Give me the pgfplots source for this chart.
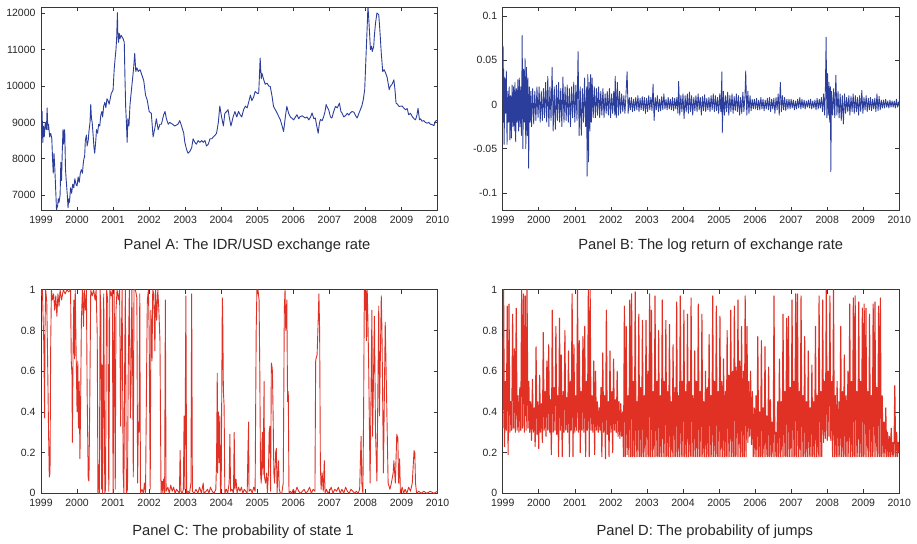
\documentclass[border=0pt]{standalone}
\usepackage{fontspec}
\setmainfont{Liberation Sans}
\usepackage{pgfplots}
\pgfplotsset{compat=1.18}
\definecolor{lineblue}{RGB}{44,62,155}
\definecolor{linered}{RGB}{225,48,36}
\definecolor{framec}{RGB}{55,55,55}
\pgfplotsset{
  panel/.style={
    scale only axis, width=396.5pt, height=203.5pt, anchor=south west,
    xmin=1999, xmax=2010,
    xtick={1999,2000,2001,2002,2003,2004,2005,2006,2007,2008,2009,2010},
    xticklabels={1999,2000,2001,2002,2003,2004,2005,2006,2007,2008,2009,2010},
    axis line style={framec, line width=0.9pt},
    tick style={framec, line width=0.6pt},
    major tick length=4pt,
    tick align=inside,
    ticklabel style={font=\fontsize{10.5}{12}\selectfont, text=black!85},
    xticklabel style={yshift=-2pt},
    yticklabel style={xshift=-2pt},
    scaled ticks=false,
  },
  ser/.style={no markers, line join=round, line width=0.9pt},
}
\begin{document}
\begin{tikzpicture}
\useasboundingbox (0,0) rectangle (917pt,543pt);
% Panel A
\begin{axis}[panel, at={(41pt,332.3pt)}, ymin=6570, ymax=12170,
  ytick={7000,8000,9000,10000,11000,12000},
  yticklabels={7000,8000,9000,10000,11000,12000}]
\addplot[ser, lineblue] coordinates {
(1999.00,8100) (1999.02,8700) (1999.03,9300) (1999.05,8450) (1999.07,8900) (1999.09,8600) (1999.12,9000) (1999.15,8800) (1999.17,9400) (1999.19,8800) (1999.21,8950) (1999.24,8600) (1999.27,8700) (1999.30,8550) (1999.32,8000) (1999.34,7600) (1999.36,8150) (1999.38,7800) (1999.41,7100) (1999.43,6600) (1999.46,6700) (1999.48,6900) (1999.50,6800) (1999.53,7000) (1999.55,7900) (1999.57,7400) (1999.59,8200) (1999.61,8800) (1999.63,8400) (1999.65,8800) (1999.66,8700) (1999.68,7700) (1999.70,7400) (1999.73,7000) (1999.75,6650) (1999.77,6900) (1999.79,6800) (1999.82,7200) (1999.85,7050) (1999.88,7300) (1999.91,7200) (1999.94,7450) (1999.97,7300) (2000.00,7250)
(2000.03,7500) (2000.06,7350) (2000.09,7600) (2000.12,7700) (2000.15,7600) (2000.17,7850) (2000.19,8000) (2000.21,8050) (2000.23,8500) (2000.26,8650) (2000.28,8350) (2000.31,8500) (2000.33,8750) (2000.36,9000) (2000.38,9500) (2000.40,9100) (2000.42,9000) (2000.45,8600) (2000.47,8300) (2000.49,8150) (2000.52,8500) (2000.54,8800) (2000.57,8700) (2000.60,8950) (2000.63,8900) (2000.66,9200) (2000.69,9300) (2000.71,9150) (2000.74,9450) (2000.77,9550) (2000.80,9400) (2000.83,9650) (2000.86,9600) (2000.89,9500) (2000.92,9650) (2000.95,9800) (2000.98,9850) (2001.00,9900)
(2001.03,10450) (2001.06,10800) (2001.08,11000) (2001.10,11350) (2001.12,12020) (2001.13,11500) (2001.15,11200) (2001.17,11450) (2001.19,11300) (2001.22,11400) (2001.25,11350) (2001.28,11300) (2001.31,11200) (2001.33,10200) (2001.35,9400) (2001.37,9000) (2001.39,8450) (2001.41,9100) (2001.44,8900) (2001.47,9500) (2001.50,9800) (2001.53,10100) (2001.57,10500) (2001.60,10900) (2001.63,10400) (2001.66,10500) (2001.70,10400) (2001.75,10450) (2001.80,10300) (2001.85,10150) (2001.90,9750) (2001.95,9600) (2002.00,9300)
(2002.06,9250) (2002.11,8600) (2002.16,8850) (2002.20,9100) (2002.25,8800) (2002.30,8950) (2002.34,8950) (2002.40,9200) (2002.44,9300) (2002.48,9100) (2002.53,8950) (2002.57,9000) (2002.65,8950) (2002.71,8900) (2002.80,8950) (2002.85,9050) (2002.90,8900) (2002.96,8700) (2002.99,8450) (2003.04,8250) (2003.08,8150) (2003.13,8200) (2003.18,8300) (2003.22,8550) (2003.27,8450) (2003.31,8400) (2003.36,8500) (2003.41,8450) (2003.46,8500) (2003.50,8450) (2003.55,8500) (2003.59,8350) (2003.64,8400) (2003.69,8550) (2003.74,8550) (2003.78,8600) (2003.83,8650) (2003.87,8700) (2003.92,9000) (2003.96,9450)
(2004.01,9150) (2004.06,8900) (2004.10,9250) (2004.15,9300) (2004.19,9350) (2004.23,9100) (2004.27,8900) (2004.33,9150) (2004.38,9300) (2004.43,9150) (2004.48,9300) (2004.53,9200) (2004.57,9150) (2004.62,9350) (2004.67,9450) (2004.72,9400) (2004.76,9550) (2004.81,9750) (2004.85,9600) (2004.90,9700) (2004.94,9850) (2005.00,9800) (2005.04,9800)
(2005.08,10770) (2005.11,10200) (2005.13,10350) (2005.18,10170) (2005.22,10050) (2005.27,10080) (2005.32,10000) (2005.36,9990) (2005.41,9720) (2005.45,9440) (2005.50,9350) (2005.55,9260) (2005.60,9150) (2005.64,9070) (2005.69,8900) (2005.73,8750) (2005.78,9160) (2005.82,9440) (2005.87,9250) (2005.92,9150) (2006.01,9070) (2006.06,9150) (2006.10,9210) (2006.15,9100) (2006.19,9160) (2006.25,9180) (2006.33,9120) (2006.38,9150) (2006.43,9070) (2006.48,9150) (2006.52,9260) (2006.57,9100) (2006.61,9120) (2006.65,8900) (2006.69,8700) (2006.72,8950) (2006.75,9080) (2006.80,9050) (2006.84,9150) (2006.88,9300) (2006.91,9490) (2006.95,9400) (2006.98,9350)
(2007.03,9150) (2007.07,9120) (2007.12,9300) (2007.17,9440) (2007.22,9400) (2007.28,9530) (2007.32,9300) (2007.35,9260) (2007.40,9150) (2007.44,9180) (2007.50,9250) (2007.54,9200) (2007.58,9260) (2007.63,9300) (2007.68,9280) (2007.72,9200) (2007.77,9120) (2007.82,9250) (2007.86,9350) (2007.90,9450) (2007.94,9620) (2007.98,9900) (2008.02,10910) (2008.04,11400) (2008.06,11920) (2008.07,12200) (2008.09,11900) (2008.11,11550) (2008.14,11000) (2008.17,11100) (2008.19,10950) (2008.23,11090) (2008.25,11400) (2008.28,11730) (2008.32,12010) (2008.35,11980) (2008.37,11960) (2008.40,11550) (2008.44,10910) (2008.48,10400) (2008.52,10450) (2008.56,10360) (2008.60,10250) (2008.63,10080) (2008.66,9900) (2008.69,9990) (2008.74,10050) (2008.79,10170) (2008.82,9900) (2008.85,9530) (2008.89,9500) (2008.93,9440)
(2009.02,9450) (2009.06,9400) (2009.11,9350) (2009.16,9380) (2009.20,9210) (2009.25,9250) (2009.30,9160) (2009.35,9100) (2009.39,9070) (2009.43,9200) (2009.46,9390) (2009.50,9070) (2009.53,9100) (2009.57,9030) (2009.62,9050) (2009.66,9000) (2009.71,8980) (2009.76,9000) (2009.80,8950) (2009.85,8940) (2009.90,8910) (2009.94,9030) (2009.97,9050) (2010.00,9040)
};
\end{axis}
% Panel B
\begin{axis}[panel, at={(502.7pt,332.3pt)}, width=396.6pt, ymin=-0.12, ymax=0.11,
  ytick={-0.1,-0.05,0,0.05,0.1},
  yticklabels={-0.1,-0.05,0,0.05,0.1}]
\addplot[ser, lineblue, line width=0.85pt] coordinates {
(1999.00,0.000) (1999.01,0.066) (1999.02,-0.020) (1999.03,0.040) (1999.04,-0.045) (1999.06,0.030) (1999.08,-0.010) (1999.10,0.038) (1999.12,-0.045) (1999.14,0.015) (1999.16,-0.020) (1999.18,0.020) (1999.20,-0.040) (1999.22,0.010) (1999.24,-0.038) (1999.26,0.022) (1999.28,-0.025) (1999.30,0.020) (1999.32,-0.030) (1999.34,0.025) (1999.36,-0.042) (1999.38,0.018) (1999.40,-0.020) (1999.42,0.028) (1999.44,-0.030) (1999.46,0.030) (1999.48,-0.025) (1999.50,0.020) (1999.52,-0.035) (1999.54,0.078) (1999.56,-0.050) (1999.58,0.040) (1999.60,-0.020) (1999.62,0.052) (1999.64,-0.050) (1999.66,0.042) (1999.68,-0.035) (1999.70,0.030) (1999.72,-0.072) (1999.74,0.020) (1999.76,-0.020) (1999.78,0.015) (1999.80,-0.025)
(1999.83,0.018) (1999.86,-0.022) (1999.89,0.015) (1999.92,-0.018) (1999.95,0.020) (1999.98,-0.015) (2000.01,0.020) (2000.04,-0.020) (2000.07,0.015) (2000.10,-0.018) (2000.13,0.018) (2000.16,-0.015) (2000.19,0.025) (2000.22,-0.020) (2000.25,0.032) (2000.28,-0.025) (2000.31,0.020) (2000.34,-0.018) (2000.37,0.042) (2000.40,-0.030) (2000.43,0.020) (2000.46,-0.028) (2000.49,0.022) (2000.52,-0.018) (2000.55,0.025) (2000.58,-0.020) (2000.61,0.018) (2000.64,-0.025) (2000.67,0.031) (2000.70,-0.020) (2000.73,0.020) (2000.76,-0.018) (2000.79,0.022) (2000.82,-0.020) (2000.85,0.018) (2000.88,-0.025) (2000.91,0.020) (2000.94,-0.015) (2000.97,0.025)
(2001.00,-0.020) (2001.03,0.022) (2001.06,-0.018) (2001.09,0.060) (2001.12,-0.035) (2001.15,0.020) (2001.18,-0.035) (2001.21,0.018) (2001.24,-0.020) (2001.27,0.030) (2001.30,-0.025) (2001.33,0.020) (2001.34,-0.081) (2001.36,0.034) (2001.38,-0.065) (2001.40,0.025) (2001.42,-0.030) (2001.44,0.034) (2001.46,-0.020) (2001.48,0.030) (2001.51,-0.015) (2001.54,0.020) (2001.57,-0.015) (2001.60,0.018) (2001.63,-0.012) (2001.66,0.020) (2001.69,-0.015) (2001.72,0.015) (2001.75,-0.012) (2001.78,0.018) (2001.81,-0.015) (2001.84,0.012) (2001.87,-0.010) (2001.90,0.015) (2001.93,-0.012) (2001.96,0.018) (2001.99,-0.015)
(2002.02,0.012) (2002.05,-0.010) (2002.08,0.015) (2002.11,-0.012) (2002.12,0.032) (2002.15,-0.015) (2002.18,0.025) (2002.21,-0.012) (2002.24,0.015) (2002.27,-0.010) (2002.30,0.012) (2002.33,-0.008) (2002.36,0.010) (2002.39,-0.010) (2002.42,0.012) (2002.45,0.037) (2002.48,-0.010) (2002.51,0.008) (2002.54,-0.006) (2002.57,0.008) (2002.60,-0.008) (2002.63,0.006) (2002.66,-0.007) (2002.69,0.008) (2002.72,-0.006) (2002.75,0.010) (2002.78,-0.008) (2002.81,0.007) (2002.84,-0.006) (2002.87,0.009) (2002.90,-0.007) (2002.93,0.008) (2002.96,-0.010) (2002.99,0.007)
(2003.02,-0.008) (2003.05,0.010) (2003.08,-0.006) (2003.11,0.008) (2003.14,-0.007) (2003.17,0.023) (2003.20,-0.018) (2003.23,0.008) (2003.26,-0.006) (2003.29,0.010) (2003.32,-0.008) (2003.35,0.006) (2003.38,-0.007) (2003.41,0.009) (2003.44,-0.006) (2003.47,0.012) (2003.50,-0.005) (2003.53,0.006) (2003.56,-0.006) (2003.59,0.008) (2003.62,-0.005) (2003.65,0.006) (2003.68,-0.006) (2003.71,0.008) (2003.74,-0.007) (2003.77,0.007) (2003.80,-0.005) (2003.83,0.008) (2003.86,-0.010) (2003.88,0.026) (2003.91,-0.012) (2003.94,0.010) (2003.97,-0.008)
(2004.00,0.012) (2004.03,-0.016) (2004.06,0.010) (2004.09,-0.008) (2004.12,0.012) (2004.15,-0.010) (2004.18,0.014) (2004.21,-0.008) (2004.24,0.010) (2004.27,-0.012) (2004.30,0.008) (2004.33,-0.007) (2004.36,0.010) (2004.39,-0.008) (2004.42,0.012) (2004.45,-0.006) (2004.48,0.008) (2004.51,-0.012) (2004.54,0.009) (2004.57,-0.007) (2004.60,0.011) (2004.63,-0.008) (2004.66,0.007) (2004.69,-0.006) (2004.72,0.008) (2004.75,-0.008) (2004.78,0.010) (2004.81,-0.006) (2004.84,0.012) (2004.87,-0.008) (2004.90,0.010) (2004.93,-0.007) (2004.96,0.008) (2004.99,-0.010)
(2005.02,0.012) (2005.05,-0.008) (2005.08,0.037) (2005.09,-0.032) (2005.12,0.015) (2005.15,-0.012) (2005.18,0.010) (2005.21,-0.008) (2005.24,0.014) (2005.27,-0.012) (2005.30,0.010) (2005.33,-0.008) (2005.36,0.012) (2005.39,-0.010) (2005.42,0.009) (2005.45,-0.007) (2005.48,0.012) (2005.51,-0.008) (2005.54,0.010) (2005.57,-0.012) (2005.60,0.008) (2005.63,-0.010) (2005.66,0.014) (2005.69,-0.008) (2005.72,0.010) (2005.74,0.038) (2005.77,-0.012) (2005.80,0.015) (2005.83,-0.010) (2005.86,0.010) (2005.89,-0.007) (2005.92,0.006) (2005.95,-0.005) (2005.98,0.006)
(2006.01,-0.005) (2006.04,0.007) (2006.07,-0.006) (2006.10,0.005) (2006.13,-0.006) (2006.16,0.008) (2006.19,-0.005) (2006.22,0.006) (2006.25,-0.007) (2006.28,0.005) (2006.31,-0.005) (2006.34,0.007) (2006.37,-0.006) (2006.40,0.008) (2006.43,-0.008) (2006.46,0.006) (2006.49,-0.005) (2006.52,0.007) (2006.55,-0.010) (2006.58,0.008) (2006.61,-0.006) (2006.64,0.012) (2006.67,-0.012) (2006.70,0.025) (2006.73,-0.008) (2006.76,0.010) (2006.79,-0.006) (2006.82,0.008) (2006.85,-0.007) (2006.88,0.006) (2006.91,-0.005) (2006.94,0.006) (2006.97,-0.005)
(2007.00,0.006) (2007.03,-0.004) (2007.06,0.005) (2007.09,-0.006) (2007.12,0.004) (2007.15,-0.005) (2007.18,0.006) (2007.21,-0.004) (2007.24,0.008) (2007.27,-0.005) (2007.30,0.006) (2007.33,-0.004) (2007.36,0.005) (2007.39,-0.005) (2007.42,0.004) (2007.45,-0.003) (2007.48,0.005) (2007.51,-0.004) (2007.54,0.006) (2007.57,-0.005) (2007.60,0.004) (2007.63,-0.004) (2007.66,0.005) (2007.69,-0.006) (2007.72,0.007) (2007.75,-0.005) (2007.78,0.006) (2007.81,-0.004) (2007.84,0.008) (2007.87,-0.008) (2007.90,0.012) (2007.93,-0.012) (2007.95,0.018) (2007.97,0.076) (2007.99,-0.015)
(2008.01,0.035) (2008.03,-0.012) (2008.05,0.025) (2008.07,-0.020) (2008.09,0.020) (2008.10,-0.076) (2008.12,0.015) (2008.15,-0.012) (2008.18,0.018) (2008.21,-0.015) (2008.24,0.033) (2008.27,-0.012) (2008.30,0.015) (2008.33,-0.015) (2008.36,0.012) (2008.39,-0.018) (2008.42,0.010) (2008.45,-0.022) (2008.48,0.012) (2008.51,-0.010) (2008.54,0.008) (2008.57,-0.008) (2008.60,0.010) (2008.63,-0.012) (2008.66,0.009) (2008.69,-0.008) (2008.72,0.012) (2008.75,-0.010) (2008.78,0.010) (2008.81,-0.008) (2008.84,0.008) (2008.87,-0.012) (2008.90,0.010) (2008.93,-0.008) (2008.96,0.016) (2008.99,-0.010)
(2009.02,0.008) (2009.05,-0.006) (2009.08,0.010) (2009.11,-0.008) (2009.14,0.007) (2009.17,-0.006) (2009.20,0.008) (2009.23,-0.007) (2009.26,0.006) (2009.29,-0.005) (2009.32,0.007) (2009.35,-0.008) (2009.38,0.012) (2009.41,-0.007) (2009.44,0.009) (2009.47,-0.006) (2009.50,0.005) (2009.53,-0.004) (2009.56,0.005) (2009.59,-0.004) (2009.62,0.006) (2009.65,-0.003) (2009.68,0.004) (2009.71,-0.004) (2009.74,0.005) (2009.77,-0.003) (2009.80,0.004) (2009.83,-0.003) (2009.86,0.004) (2009.89,-0.004) (2009.92,0.006) (2009.95,-0.003) (2009.98,0.003) (2010.00,-0.002)
};
\end{axis}
% Panel C
\begin{axis}[panel, at={(41pt,49.7pt)}, ymin=0, ymax=1,
  ytick={0,0.2,0.4,0.6,0.8,1},
  yticklabels={0,0.2,0.4,0.6,0.8,1}]
\addplot[ser, linered] coordinates {
(1999.00,1.0) (1999.02,0.97) (1999.04,1.0) (1999.06,0.85) (1999.08,0.72) (1999.10,0.37) (1999.11,0.8) (1999.13,1.0) (1999.16,0.94) (1999.18,0.7) (1999.21,0.3) (1999.23,0.08) (1999.25,0.1) (1999.27,0.75) (1999.29,1.0) (1999.32,0.95) (1999.35,0.98) (1999.38,0.9) (1999.41,0.97) (1999.44,0.87) (1999.47,0.98) (1999.50,0.92) (1999.53,1.0) (1999.57,0.95) (1999.62,1.0) (1999.67,0.98) (1999.72,1.0) (1999.77,0.99) (1999.82,1.0) (1999.84,0.65) (1999.86,0.58) (1999.87,0.25) (1999.89,0.7) (1999.91,0.95) (1999.93,0.66) (1999.95,1.0) (1999.97,0.75)
(2000.00,0.4) (2000.02,0.65) (2000.04,0.32) (2000.06,0.55) (2000.08,0.17) (2000.10,0.45) (2000.12,0.85) (2000.15,1.0) (2000.18,0.82) (2000.20,1.0) (2000.23,0.9) (2000.26,1.0) (2000.28,0.5) (2000.31,0.07) (2000.33,0.06) (2000.35,0.4) (2000.38,1.0) (2000.42,0.97) (2000.46,1.0) (2000.50,0.95) (2000.53,1.0) (2000.56,0.78) (2000.58,0.0) (2000.60,0.14) (2000.62,0.0) (2000.64,1.0) (2000.66,0.9) (2000.68,0.02) (2000.70,0.63) (2000.71,0.0) (2000.74,0.98) (2000.77,0.0) (2000.79,0.02) (2000.82,1.0) (2000.85,0.95) (2000.88,0.01) (2000.91,1.0) (2000.95,0.97) (2000.98,1.0)
(2001.00,0.0) (2001.03,1.0) (2001.06,0.02) (2001.08,0.9) (2001.11,1.0) (2001.15,0.95) (2001.18,1.0) (2001.21,0.33) (2001.23,0.75) (2001.25,1.0) (2001.28,0.1) (2001.30,0.0) (2001.32,0.6) (2001.34,1.0) (2001.37,0.0) (2001.40,0.02) (2001.42,0.61) (2001.45,1.0) (2001.48,0.37) (2001.50,0.55) (2001.52,1.0) (2001.54,0.7) (2001.56,0.08) (2001.58,1.0) (2001.62,1.0) (2001.66,0.96) (2001.68,0.05) (2001.70,0.35) (2001.72,0.3) (2001.74,0.98) (2001.76,0.0) (2001.80,0.02) (2001.84,0.0) (2001.87,0.05) (2001.90,0.0) (2001.93,0.6) (2001.95,0.95) (2001.98,1.0)
(2002.00,0.8) (2002.03,0.02) (2002.05,0.9) (2002.08,0.65) (2002.10,1.0) (2002.13,0.98) (2002.16,0.7) (2002.18,1.0) (2002.21,0.85) (2002.24,1.0) (2002.27,0.9) (2002.30,0.75) (2002.33,0.0) (2002.36,0.06) (2002.38,0.0) (2002.40,0.07) (2002.43,0.0) (2002.45,0.95) (2002.47,0.01) (2002.52,0.03) (2002.56,0.0) (2002.60,0.04) (2002.64,0.01) (2002.68,0.03) (2002.72,0.0) (2002.76,0.02) (2002.80,0.01) (2002.84,0.0) (2002.86,0.21) (2002.88,0.01) (2002.92,0.0) (2002.95,0.02) (2002.97,0.38) (2002.99,0.02)
(2003.02,0.97) (2003.04,0.0) (2003.08,0.01) (2003.12,0.0) (2003.16,0.05) (2003.18,0.98) (2003.20,0.01) (2003.25,0.0) (2003.30,0.02) (2003.35,0.0) (2003.40,0.03) (2003.45,0.0) (2003.50,0.05) (2003.52,0.0) (2003.58,0.01) (2003.62,0.02) (2003.66,0.0) (2003.70,0.03) (2003.75,0.01) (2003.80,0.0) (2003.85,0.02) (2003.87,0.15) (2003.89,0.59) (2003.90,0.1) (2003.92,0.4) (2003.94,0.15) (2003.96,0.38) (2003.98,0.0)
(2004.00,0.05) (2004.03,0.96) (2004.04,0.9) (2004.06,0.5) (2004.08,0.43) (2004.10,0.0) (2004.14,0.02) (2004.18,0.0) (2004.22,0.05) (2004.24,0.29) (2004.26,0.01) (2004.30,0.02) (2004.34,0.0) (2004.36,0.3) (2004.38,0.02) (2004.41,0.07) (2004.44,0.0) (2004.48,0.03) (2004.52,0.01) (2004.56,0.03) (2004.60,0.0) (2004.64,0.02) (2004.68,0.01) (2004.72,0.0) (2004.74,0.2) (2004.76,0.35) (2004.77,0.01) (2004.82,0.02) (2004.86,0.0) (2004.90,0.03) (2004.94,0.01) (2004.97,0.8) (2004.99,1.0)
(2005.02,1.0) (2005.05,0.95) (2005.07,0.6) (2005.09,0.1) (2005.11,0.05) (2005.14,0.3) (2005.16,0.09) (2005.19,0.55) (2005.20,0.08) (2005.23,0.05) (2005.26,0.1) (2005.28,0.0) (2005.31,0.1) (2005.33,0.3) (2005.35,0.33) (2005.37,0.01) (2005.39,0.64) (2005.41,0.62) (2005.42,0.6) (2005.44,0.38) (2005.46,0.1) (2005.48,0.05) (2005.51,0.2) (2005.53,0.22) (2005.55,0.0) (2005.57,0.1) (2005.59,0.16) (2005.61,0.02) (2005.64,0.0) (2005.68,0.0) (2005.72,0.05) (2005.75,0.9) (2005.77,1.0) (2005.79,0.8) (2005.80,0.85) (2005.82,0.95) (2005.84,0.45) (2005.86,0.5) (2005.88,0.0) (2005.92,0.01) (2005.96,0.0)
(2006.00,0.02) (2006.05,0.0) (2006.10,0.03) (2006.15,0.01) (2006.20,0.0) (2006.25,0.01) (2006.30,0.02) (2006.35,0.0) (2006.40,0.01) (2006.45,0.03) (2006.50,0.0) (2006.55,0.02) (2006.60,0.01) (2006.62,0.65) (2006.64,0.67) (2006.66,0.68) (2006.69,0.85) (2006.71,0.98) (2006.73,0.8) (2006.75,0.15) (2006.77,0.02) (2006.80,0.1) (2006.83,0.01) (2006.86,0.16) (2006.88,0.0) (2006.92,0.02) (2006.96,0.0)
(2007.00,0.01) (2007.05,0.03) (2007.10,0.0) (2007.15,0.02) (2007.20,0.01) (2007.25,0.03) (2007.30,0.0) (2007.35,0.02) (2007.40,0.0) (2007.45,0.03) (2007.50,0.01) (2007.55,0.0) (2007.60,0.02) (2007.65,0.01) (2007.70,0.0) (2007.75,0.01) (2007.80,0.0) (2007.84,0.02) (2007.88,0.28) (2007.90,0.05) (2007.93,0.0) (2007.95,0.4) (2007.97,1.0) (2007.99,0.9) (2008.01,1.0) (2008.03,0.75) (2008.05,1.0) (2008.07,0.85) (2008.09,0.63) (2008.13,0.05) (2008.18,0.9) (2008.20,0.28) (2008.25,0.87) (2008.28,0.3) (2008.32,0.06) (2008.37,0.92) (2008.39,0.38) (2008.44,0.97) (2008.46,0.79) (2008.50,0.1) (2008.55,0.84) (2008.59,0.45) (2008.63,0.05) (2008.68,0.02) (2008.72,0.05) (2008.77,0.1) (2008.79,0.16) (2008.83,0.05) (2008.87,0.29) (2008.90,0.27) (2008.92,0.05) (2008.95,0.17) (2008.97,0.0)
(2009.02,0.03) (2009.06,0.0) (2009.10,0.02) (2009.15,0.0) (2009.20,0.03) (2009.25,0.01) (2009.30,0.05) (2009.33,0.15) (2009.35,0.21) (2009.37,0.2) (2009.39,0.05) (2009.42,0.0) (2009.48,0.01) (2009.55,0.0) (2009.62,0.01) (2009.70,0.0) (2009.80,0.01) (2009.90,0.0) (2010.00,0.01)
};
\end{axis}
% Panel D
\begin{axis}[panel, at={(502.7pt,49.7pt)}, width=396.6pt, ymin=0, ymax=1,
  ytick={0,0.2,0.4,0.6,0.8,1},
  yticklabels={0,0.2,0.4,0.6,0.8,1}]
\addplot[ser, linered, line width=1.1pt] coordinates {
(1999.000,0.32) (1999.025,1.00) (1999.050,0.23) (1999.075,0.55) (1999.100,0.31) (1999.125,0.92) (1999.150,0.19) (1999.175,0.93) (1999.200,0.30) (1999.225,0.45) (1999.250,0.31) (1999.275,0.88) (1999.300,0.32) (1999.325,0.71) (1999.350,0.30) (1999.375,0.91) (1999.400,0.31) (1999.425,0.48) (1999.450,0.30) (1999.475,0.52) (1999.500,0.31) (1999.525,1.00) (1999.550,0.32) (1999.575,0.98) (1999.600,0.30) (1999.625,0.97) (1999.650,0.31) (1999.675,1.00) (1999.700,0.32) (1999.725,0.55) (1999.750,0.30) (1999.775,0.45) (1999.800,0.26) (1999.825,0.56) (1999.850,0.30) (1999.875,0.42) (1999.900,0.23) (1999.925,0.72) (1999.950,0.29) (1999.975,0.45)
(2000.000,0.22) (2000.025,0.58) (2000.050,0.30) (2000.075,0.44) (2000.100,0.25) (2000.125,0.79) (2000.150,0.31) (2000.175,0.50) (2000.200,0.28) (2000.225,0.65) (2000.250,0.31) (2000.275,0.73) (2000.300,0.30) (2000.325,0.46) (2000.350,0.19) (2000.375,0.90) (2000.400,0.30) (2000.425,0.52) (2000.450,0.31) (2000.475,0.82) (2000.500,0.29) (2000.525,0.48) (2000.550,0.18) (2000.575,0.86) (2000.600,0.31) (2000.625,0.68) (2000.650,0.18) (2000.675,0.50) (2000.700,0.30) (2000.725,0.80) (2000.750,0.31) (2000.775,0.47) (2000.800,0.30) (2000.825,0.70) (2000.850,0.18) (2000.875,0.55) (2000.900,0.31) (2000.925,0.98) (2000.950,0.18) (2000.975,0.73)
(2001.000,0.30) (2001.025,0.48) (2001.050,0.31) (2001.075,1.00) (2001.100,0.30) (2001.125,0.75) (2001.150,0.20) (2001.175,0.50) (2001.200,0.31) (2001.225,0.77) (2001.250,0.30) (2001.275,0.82) (2001.300,0.18) (2001.325,0.55) (2001.350,0.31) (2001.375,1.00) (2001.400,0.18) (2001.425,1.00) (2001.450,0.31) (2001.475,0.48) (2001.500,0.30) (2001.525,0.65) (2001.550,0.19) (2001.575,0.60) (2001.600,0.31) (2001.625,0.45) (2001.650,0.30) (2001.675,0.42) (2001.700,0.31) (2001.725,0.52) (2001.750,0.18) (2001.775,0.69) (2001.800,0.30) (2001.825,0.48) (2001.850,0.17) (2001.875,0.90) (2001.900,0.29) (2001.925,0.45) (2001.950,0.18) (2001.975,0.70)
(2002.000,0.30) (2002.025,0.50) (2002.050,0.20) (2002.075,0.66) (2002.100,0.31) (2002.125,0.46) (2002.150,0.30) (2002.175,0.60) (2002.200,0.28) (2002.225,0.45) (2002.250,0.27) (2002.275,0.44) (2002.300,0.28) (2002.325,0.40) (2002.350,0.18) (2002.375,0.92) (2002.400,0.18) (2002.425,0.82) (2002.450,0.19) (2002.475,0.48) (2002.500,0.18) (2002.525,0.95) (2002.550,0.18) (2002.575,0.98) (2002.600,0.18) (2002.625,0.55) (2002.650,0.18) (2002.675,0.99) (2002.700,0.18) (2002.725,0.45) (2002.750,0.18) (2002.775,0.88) (2002.800,0.18) (2002.825,0.52) (2002.850,0.18) (2002.875,0.85) (2002.900,0.18) (2002.925,0.48) (2002.950,0.18) (2002.975,0.85)
(2003.000,0.18) (2003.025,0.60) (2003.050,0.18) (2003.075,0.98) (2003.100,0.18) (2003.125,0.90) (2003.150,0.18) (2003.175,0.50) (2003.200,0.18) (2003.225,0.97) (2003.250,0.18) (2003.275,0.55) (2003.300,0.18) (2003.325,0.80) (2003.350,0.18) (2003.375,0.48) (2003.400,0.18) (2003.425,0.95) (2003.450,0.18) (2003.475,0.55) (2003.500,0.18) (2003.525,0.85) (2003.550,0.18) (2003.575,0.50) (2003.600,0.18) (2003.625,0.83) (2003.650,0.18) (2003.675,0.45) (2003.700,0.18) (2003.725,0.73) (2003.750,0.18) (2003.775,0.52) (2003.800,0.18) (2003.825,0.94) (2003.850,0.18) (2003.875,0.48) (2003.900,0.18) (2003.925,0.97) (2003.950,0.18) (2003.975,0.55)
(2004.000,0.18) (2004.025,0.90) (2004.050,0.18) (2004.075,0.50) (2004.100,0.18) (2004.125,0.88) (2004.150,0.18) (2004.175,0.55) (2004.200,0.18) (2004.225,0.96) (2004.250,0.18) (2004.275,0.48) (2004.300,0.18) (2004.325,0.70) (2004.350,0.18) (2004.375,0.55) (2004.400,0.18) (2004.425,0.93) (2004.450,0.18) (2004.475,0.50) (2004.500,0.18) (2004.525,0.88) (2004.550,0.18) (2004.575,0.45) (2004.600,0.18) (2004.625,0.60) (2004.650,0.18) (2004.675,0.52) (2004.700,0.18) (2004.725,0.78) (2004.750,0.18) (2004.775,0.48) (2004.800,0.18) (2004.825,0.97) (2004.850,0.18) (2004.875,0.55) (2004.900,0.18) (2004.925,0.92) (2004.950,0.18) (2004.975,0.50)
(2005.000,0.18) (2005.025,0.87) (2005.050,0.18) (2005.075,0.55) (2005.100,0.18) (2005.125,0.66) (2005.150,0.18) (2005.175,0.50) (2005.200,0.18) (2005.225,0.80) (2005.250,0.18) (2005.275,0.58) (2005.300,0.18) (2005.325,0.90) (2005.350,0.18) (2005.375,0.60) (2005.400,0.18) (2005.425,0.92) (2005.450,0.18) (2005.475,0.62) (2005.500,0.18) (2005.525,0.95) (2005.550,0.18) (2005.575,0.65) (2005.600,0.18) (2005.625,0.82) (2005.650,0.18) (2005.675,0.60) (2005.700,0.18) (2005.725,0.97) (2005.750,0.18) (2005.775,0.82) (2005.800,0.25) (2005.825,0.55) (2005.850,0.28) (2005.875,0.60) (2005.900,0.24) (2005.925,0.50) (2005.950,0.18) (2005.975,0.42)
(2006.000,0.18) (2006.025,0.48) (2006.050,0.18) (2006.075,0.77) (2006.100,0.18) (2006.125,0.40) (2006.150,0.18) (2006.175,0.75) (2006.200,0.18) (2006.225,0.42) (2006.250,0.18) (2006.275,0.72) (2006.300,0.18) (2006.325,0.38) (2006.350,0.18) (2006.375,0.62) (2006.400,0.18) (2006.425,0.46) (2006.450,0.18) (2006.475,0.35) (2006.500,0.18) (2006.525,0.97) (2006.550,0.18) (2006.575,0.30) (2006.600,0.18) (2006.625,0.45) (2006.650,0.18) (2006.675,0.66) (2006.700,0.18) (2006.725,0.45) (2006.750,0.18) (2006.775,0.88) (2006.800,0.18) (2006.825,0.50) (2006.850,0.18) (2006.875,0.86) (2006.900,0.18) (2006.925,0.87) (2006.950,0.18) (2006.975,0.52)
(2007.000,0.18) (2007.025,0.95) (2007.050,0.18) (2007.075,0.55) (2007.100,0.18) (2007.125,0.98) (2007.150,0.18) (2007.175,0.98) (2007.200,0.18) (2007.225,0.50) (2007.250,0.18) (2007.275,0.97) (2007.300,0.18) (2007.325,0.48) (2007.350,0.18) (2007.375,0.77) (2007.400,0.18) (2007.425,0.45) (2007.450,0.18) (2007.475,0.70) (2007.500,0.18) (2007.525,0.42) (2007.550,0.18) (2007.575,0.63) (2007.600,0.18) (2007.625,0.45) (2007.650,0.18) (2007.675,0.82) (2007.700,0.18) (2007.725,0.48) (2007.750,0.18) (2007.775,0.97) (2007.800,0.18) (2007.825,0.50) (2007.850,0.18) (2007.875,0.95) (2007.900,0.25) (2007.925,0.55) (2007.950,0.27) (2007.975,1.00)
(2008.000,0.26) (2008.025,0.60) (2008.050,0.28) (2008.075,0.97) (2008.100,0.26) (2008.125,0.55) (2008.150,0.18) (2008.175,1.00) (2008.200,0.18) (2008.225,0.48) (2008.250,0.18) (2008.275,0.55) (2008.300,0.18) (2008.325,0.45) (2008.350,0.18) (2008.375,0.82) (2008.400,0.18) (2008.425,0.50) (2008.450,0.18) (2008.475,0.68) (2008.500,0.18) (2008.525,0.48) (2008.550,0.18) (2008.575,0.60) (2008.600,0.18) (2008.625,0.93) (2008.650,0.18) (2008.675,0.55) (2008.700,0.18) (2008.725,0.96) (2008.750,0.18) (2008.775,0.97) (2008.800,0.18) (2008.825,0.50) (2008.850,0.18) (2008.875,0.94) (2008.900,0.18) (2008.925,0.55) (2008.950,0.18) (2008.975,0.91)
(2009.000,0.18) (2009.025,0.93) (2009.050,0.18) (2009.075,0.91) (2009.100,0.18) (2009.125,0.50) (2009.150,0.18) (2009.175,0.88) (2009.200,0.18) (2009.225,0.48) (2009.250,0.18) (2009.275,0.93) (2009.300,0.18) (2009.325,0.94) (2009.350,0.18) (2009.375,0.52) (2009.400,0.18) (2009.425,0.92) (2009.450,0.18) (2009.475,0.96) (2009.500,0.18) (2009.525,0.48) (2009.550,0.18) (2009.575,0.35) (2009.600,0.18) (2009.625,0.42) (2009.650,0.18) (2009.675,0.30) (2009.700,0.18) (2009.725,0.28) (2009.750,0.18) (2009.775,0.32) (2009.800,0.18) (2009.825,0.25) (2009.850,0.18) (2009.875,0.53) (2009.900,0.18) (2009.925,0.30) (2009.950,0.18) (2009.975,0.25) (2010.000,0.20)
};
\end{axis}
\node[anchor=base, font=\fontsize{14.7}{17}\selectfont, text=black!85] at (247pt,293pt) {Panel A: The IDR/USD exchange rate};
\node[anchor=base, font=\fontsize{14.7}{17}\selectfont, text=black!85] at (710.8pt,293pt) {Panel B: The log return of exchange rate};
\node[anchor=base, font=\fontsize{14.7}{17}\selectfont, text=black!85] at (243pt,7.5pt) {Panel C: The probability of state 1};
\node[anchor=base, font=\fontsize{14.7}{17}\selectfont, text=black!85] at (704.8pt,7.5pt) {Panel D: The probability of jumps};
\end{tikzpicture}
\end{document}
